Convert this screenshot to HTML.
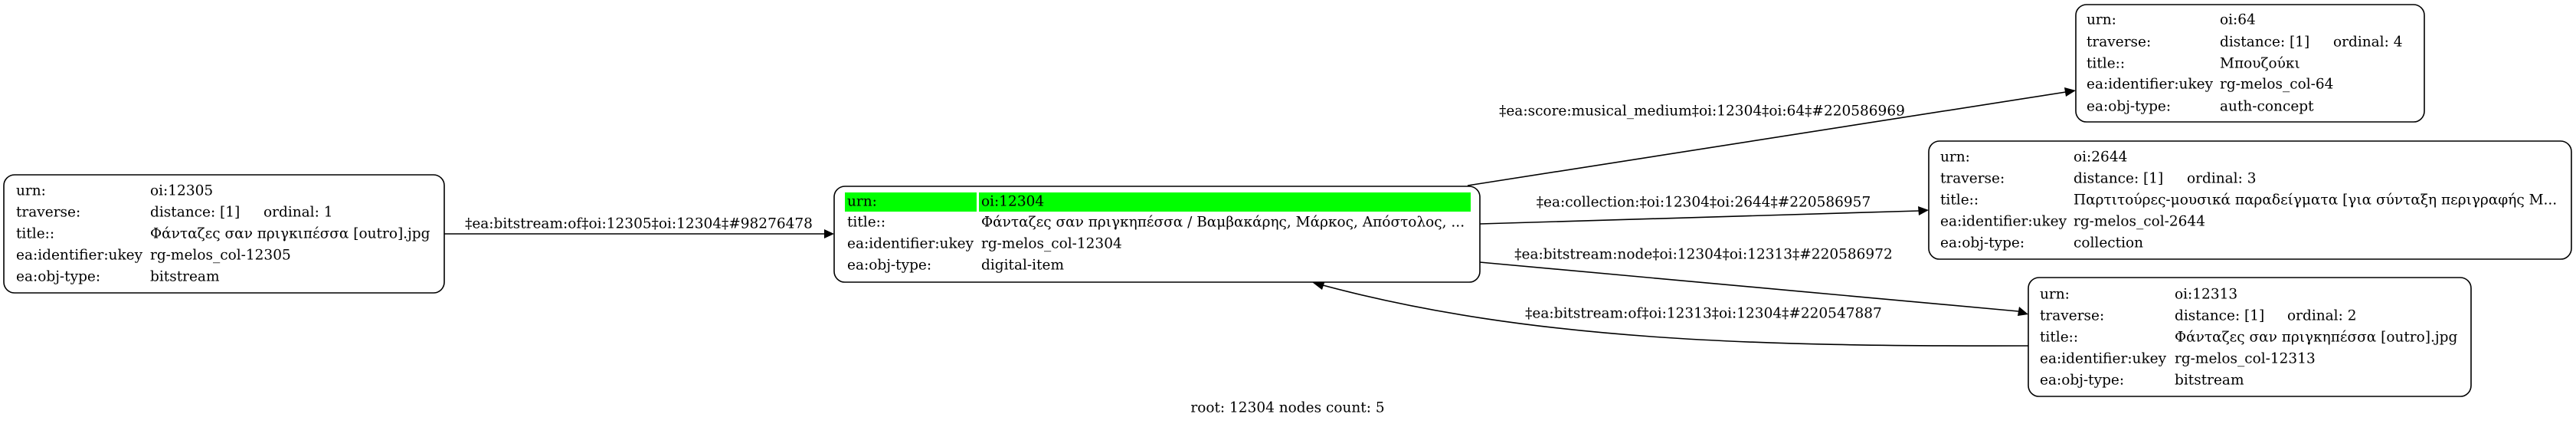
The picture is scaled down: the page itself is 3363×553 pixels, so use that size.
<!DOCTYPE html>
<html><head><meta charset="utf-8"><style>
html,body{margin:0;padding:0;background:#fff;}
svg{display:block;}
text{font-family:"DejaVu Serif","Liberation Serif",serif;font-size:18.5px;fill:#000;dominant-baseline:central;}
.b{fill:#fff;stroke:#000;stroke-width:1.6;}
.e{fill:none;stroke:#000;stroke-width:1.6;}
</style></head><body>
<svg width="3363" height="553" viewBox="0 0 3363 553" xmlns="http://www.w3.org/2000/svg">
<defs><marker id="a" markerWidth="10" markerHeight="8" refX="10" refY="4" orient="auto" markerUnits="userSpaceOnUse"><path d="M0,0 L10,4 L0,8 z" fill="#000" transform="scale(1.6) translate(-4,-1.5)"/></marker></defs>

<!-- edges -->
<path class="e" d="M580,305 L1076,305"/><path d="M1076,299 L1089,305 L1076,311 z"/>
<text x="834" y="292" text-anchor="middle">‡ea:bitstream:of‡oi:12305‡oi:12304‡#98276478</text>

<path class="e" d="M1916,242 L2697,120"/><path d="M2695,114 L2710,118 L2697,126 z"/>
<text x="2222" y="145" text-anchor="middle">‡ea:score:musical_medium‡oi:12304‡oi:64‡#220586969</text>

<path class="e" d="M1932,292 L2505,275"/><path d="M2504,269 L2518,274 L2505,281 z"/>
<text x="2224" y="264" text-anchor="middle">‡ea:collection:‡oi:12304‡oi:2644‡#220586957</text>

<path class="e" d="M1932,342 L2635,406"/><path d="M2636,400 L2648,410 L2634,412 z"/>
<text x="2224" y="332" text-anchor="middle">‡ea:bitstream:node‡oi:12304‡oi:12313‡#220586972</text>

<path class="e" d="M2648,451 C2300,452 2000,445 1727,372"/><path d="M1713,368 L1730,366 L1726,378 z"/>
<text x="2224" y="409" text-anchor="middle">‡ea:bitstream:of‡oi:12313‡oi:12304‡#220547887</text>

<!-- node 12305 -->
<rect class="b" x="5" y="228" width="575" height="154" rx="14"/>
<text x="21" y="249">urn:</text><text x="196" y="249">oi:12305</text>
<text x="21" y="277">traverse:</text><text x="196" y="277">distance: [1]</text><text x="344" y="277">ordinal: 1</text>
<text x="21" y="305">title::</text><text x="196" y="305">Φάνταζες σαν πριγκιπέσσα [outro].jpg</text>
<text x="21" y="333">ea:identifier:ukey</text><text x="196" y="333">rg-melos_col-12305</text>
<text x="21" y="361">ea:obj-type:</text><text x="196" y="361">bitstream</text>

<!-- node 12304 -->
<rect class="b" x="1089" y="243" width="843" height="125" rx="14"/>
<rect x="1103" y="251" width="172" height="25" fill="#00ff00"/>
<rect x="1278" y="251" width="642" height="25" fill="#00ff00"/>
<text x="1106" y="263">urn:</text><text x="1281" y="263">oi:12304</text>
<text x="1106" y="290">title::</text><text x="1281" y="290">Φάνταζες σαν πριγκηπέσσα / Βαμβακάρης, Μάρκος, Απόστολος, ...</text>
<text x="1106" y="318">ea:identifier:ukey</text><text x="1281" y="318">rg-melos_col-12304</text>
<text x="1106" y="346">ea:obj-type:</text><text x="1281" y="346">digital-item</text>

<!-- node 64 -->
<rect class="b" x="2710" y="6" width="455" height="153" rx="14"/>
<text x="2724" y="26">urn:</text><text x="2898" y="26">oi:64</text>
<text x="2724" y="55">traverse:</text><text x="2898" y="55">distance: [1]</text><text x="3046" y="55">ordinal: 4</text>
<text x="2724" y="83">title::</text><text x="2898" y="83">Μπουζούκι</text>
<text x="2724" y="110">ea:identifier:ukey</text><text x="2898" y="110">rg-melos_col-64</text>
<text x="2724" y="139">ea:obj-type:</text><text x="2898" y="139">auth-concept</text>

<!-- node 2644 -->
<rect class="b" x="2518" y="184" width="839" height="154" rx="14"/>
<text x="2533" y="205">urn:</text><text x="2707" y="205">oi:2644</text>
<text x="2533" y="233">traverse:</text><text x="2707" y="233">distance: [1]</text><text x="2855" y="233">ordinal: 3</text>
<text x="2533" y="261">title::</text><text x="2707" y="261">Παρτιτούρες-μουσικά παραδείγματα [για σύνταξη περιγραφής Μ...</text>
<text x="2533" y="289">ea:identifier:ukey</text><text x="2707" y="289">rg-melos_col-2644</text>
<text x="2533" y="317">ea:obj-type:</text><text x="2707" y="317">collection</text>

<!-- node 12313 -->
<rect class="b" x="2648" y="362" width="578" height="155" rx="14"/>
<text x="2663" y="384">urn:</text><text x="2839" y="384">oi:12313</text>
<text x="2663" y="412">traverse:</text><text x="2839" y="412">distance: [1]</text><text x="2986" y="412">ordinal: 2</text>
<text x="2663" y="440">title::</text><text x="2839" y="440">Φάνταζες σαν πριγκηπέσσα [outro].jpg</text>
<text x="2663" y="468">ea:identifier:ukey</text><text x="2839" y="468">rg-melos_col-12313</text>
<text x="2663" y="496">ea:obj-type:</text><text x="2839" y="496">bitstream</text>

<text x="1681" y="532" text-anchor="middle">root: 12304 nodes count: 5</text>
</svg>
</body></html>
